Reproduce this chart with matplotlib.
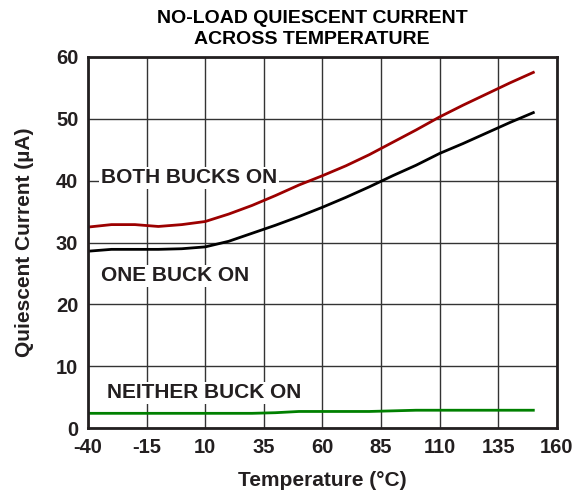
import matplotlib.pyplot as plt
import numpy as np

# temperature points (°C)
temp = [-40, -30, -20, -10, 0, 10, 20, 30, 40, 50, 60, 70, 80, 90, 100, 110, 120, 130, 140, 150]

# quiescent current (uA) for each mode
both_on = [32.5, 32.9, 32.9, 32.6, 32.9, 33.4, 34.6, 36.0, 37.6, 39.3, 40.8, 42.4, 44.2, 46.2, 48.2, 50.3, 52.2, 54.0, 55.8, 57.5]
one_on = [28.6, 28.9, 28.9, 28.9, 29.0, 29.3, 30.2, 31.5, 32.8, 34.2, 35.7, 37.3, 39.0, 40.8, 42.5, 44.4, 46.0, 47.7, 49.4, 51.0]
neither_on = [2.4, 2.4, 2.4, 2.4, 2.4, 2.4, 2.4, 2.4, 2.5, 2.7, 2.7, 2.7, 2.7, 2.8, 2.9, 2.9, 2.9, 2.9, 2.9, 2.9]

x_ticks = [-40, -15, 10, 35, 60, 85, 110, 135, 160]
y_ticks = [0, 10, 20, 30, 40, 50, 60]

plt.rcParams['font.family'] = ['Liberation Sans', 'DejaVu Sans']
plt.rcParams['axes.unicode_minus'] = False
txt = '#231f20'

fig = plt.figure(figsize=(5.83, 4.95), dpi=100)
ax = fig.add_axes([0.151, 0.135, 0.804, 0.75])

ax.plot(temp, both_on, color='#9c0000', lw=2)
ax.plot(temp, one_on, color='black', lw=2)
ax.plot(temp, neither_on, color='#008000', lw=2)

ax.set_xlim(-40, 160)
ax.set_ylim(0, 60)
ax.set_xticks(x_ticks)
ax.set_yticks(y_ticks)
ax.grid(True, color='#333333', lw=1)
ax.set_axisbelow(True)
ax.tick_params(length=0, labelsize=14.5, labelcolor=txt, pad=7)
for lab in ax.get_xticklabels() + ax.get_yticklabels():
    lab.set_fontweight('bold')
for s in ax.spines.values():
    s.set_linewidth(2)
    s.set_color('#231f20')

# mode labels with white boxes that break the grid
box = dict(facecolor='white', edgecolor='none', pad=1)
ax.text(-34.5, 40.5, 'BOTH BUCKS ON', fontsize=15, fontweight='bold', color=txt, va='center', bbox=box)
ax.text(-34.5, 24.6, 'ONE BUCK ON', fontsize=15, fontweight='bold', color=txt, va='center', bbox=box)
ax.text(-32, 5.7, 'NEITHER BUCK ON', fontsize=15, fontweight='bold', color=txt, va='center', bbox=box)

fig.text(0.535, 0.942, 'NO-LOAD QUIESCENT CURRENT\nACROSS TEMPERATURE', ha='center', va='center',
         fontsize=14, fontweight='bold', color='black', linespacing=1.3)
ax.set_xlabel('Temperature (°C)', fontsize=15, fontweight='bold', color=txt, labelpad=10)
ax.set_ylabel('Quiescent Current (µA)', fontsize=15, fontweight='bold', color=txt, labelpad=16)

fig.savefig('out.png', dpi=100)
